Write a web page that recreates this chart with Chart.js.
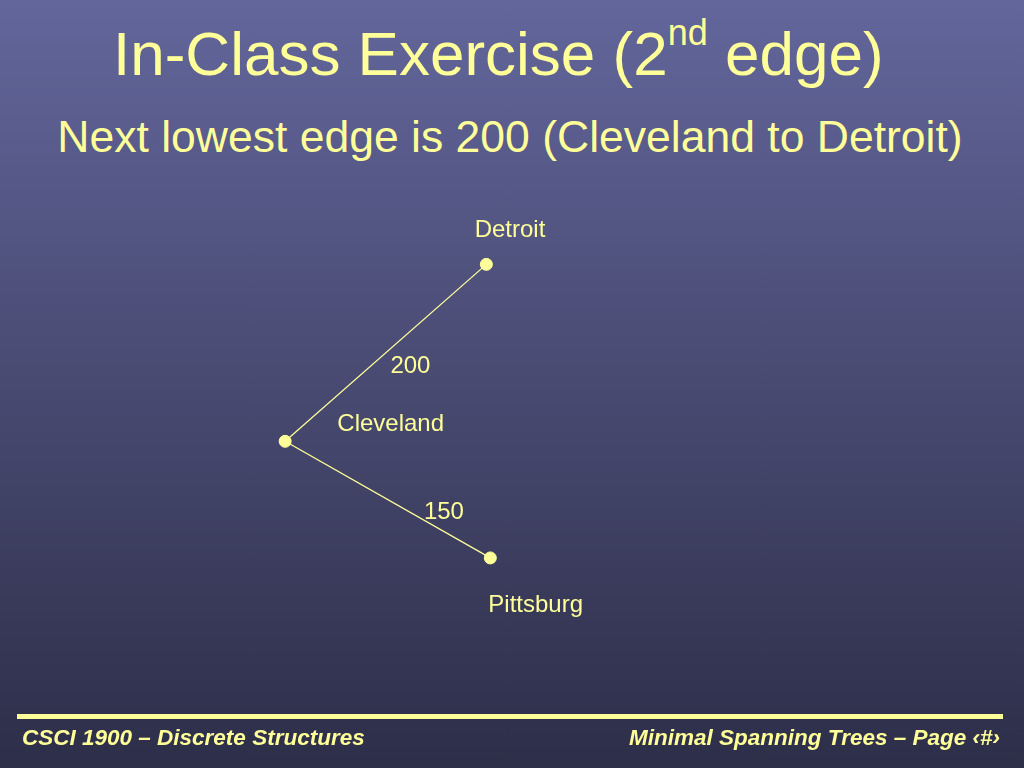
<!DOCTYPE html>
<html><head><meta charset="utf-8">
<script src="https://cdn.jsdelivr.net/npm/chart.js@4/dist/chart.umd.min.js"></script>
<style>
html,body{margin:0;padding:0;width:1024px;height:768px;overflow:hidden;font-family:"Liberation Sans",Arial,sans-serif;}
body{background:linear-gradient(#63669b,#2d2e48);position:relative;}
#t1{position:absolute;top:18px;left:113px;white-space:nowrap;color:#ffff99;font-size:62px;}
#t1 sup{font-size:36px;vertical-align:30px;line-height:0}
#t2{position:absolute;top:112px;left:0;width:1024px;text-align:center;color:#ffff99;font-size:44.5px;margin-left:-2px}
#bar{position:absolute;left:17px;top:714px;width:986px;height:5px;background:#ffff99;}
.f{position:absolute;top:725px;color:#ffff99;font-size:22.5px;font-style:italic;font-weight:bold;font-family:"Liberation Sans Narrow","Arial Narrow",sans-serif;}
#wrap{position:absolute;left:0;top:0;width:1024px;height:768px;}
</style></head><body>
<div id="t1">In-Class Exercise (2<sup>nd</sup> edge)</div>
<div id="t2">Next lowest edge is 200 (Cleveland to Detroit)</div>
<div id="wrap"><canvas id="c"></canvas></div>
<div id="bar"></div>
<div class="f" style="left:22px">CSCI 1900 – Discrete Structures</div>
<div class="f" style="right:24px">Minimal Spanning Trees – Page ‹#›</div>
<script>
const cities=["Detroit","Cleveland","Pittsburg"];
const cityX=[486,282,490];
const cityY=[264,440,556];
const labelX=[510,389,536];
const labelY=[230,423,603];
const edges=[[1,0],[1,2]];
const weights=["200","150"];
const weightX=[409,443];
const weightY=[365,511];
const Y="#ffff99";
const datasets=edges.map(e=>({type:'line',data:e.map(i=>({x:cityX[i],y:cityY[i]})),borderColor:Y,borderWidth:1.3,pointRadius:0,fill:false}));
datasets.push({type:'scatter',data:cities.map((c,i)=>({x:cityX[i],y:cityY[i]})),backgroundColor:Y,borderColor:Y,pointRadius:6});
const labels={id:'lbl',afterDatasetsDraw(ch){const {ctx,scales:{x,y}}=ch;ctx.save();ctx.fillStyle=Y;ctx.font='24px "Liberation Sans", Arial';ctx.textAlign='center';ctx.textBaseline='middle';
cities.forEach((c,i)=>ctx.fillText(c,x.getPixelForValue(labelX[i]),y.getPixelForValue(labelY[i])));
weights.forEach((w,i)=>ctx.fillText(w,x.getPixelForValue(weightX[i]),y.getPixelForValue(weightY[i])));ctx.restore();}};
new Chart(document.getElementById('c'),{data:{datasets},plugins:[labels],options:{responsive:true,maintainAspectRatio:false,animation:false,layout:{padding:0},
plugins:{legend:{display:false},tooltip:{enabled:false}},
scales:{x:{type:'linear',min:0,max:1024,display:false},y:{type:'linear',min:8,max:758,reverse:true,display:false}}}});
</script></body></html>
